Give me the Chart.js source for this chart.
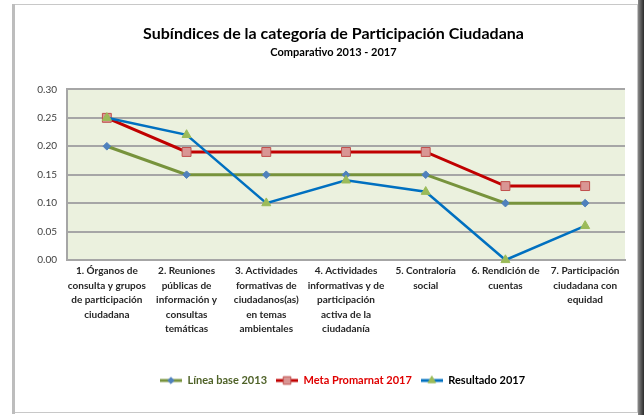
<!DOCTYPE html>
<html>
<head>
<meta charset="utf-8">
<script src="https://cdn.jsdelivr.net/npm/chart.js@4/dist/chart.umd.min.js"></script>
<style>
  html, body { margin: 0; padding: 0; background: #fff; }
  #wrap { position: relative; width: 644px; height: 415px; }
</style>
</head>
<body>
<div id="wrap"><canvas id="chart" width="644" height="415"></canvas></div>
<script>
// Chart data
const categories = [
    ['1. Órganos de', 'consulta y grupos', 'de participación', 'ciudadana'],
    ['2. Reuniones', 'públicas de', 'información y', 'consultas', 'temáticas'],
    ['3. Actividades', 'formativas de', 'ciudadanos(as)', 'en temas', 'ambientales'],
    ['4. Actividades', 'informativas y de', 'participación', 'activa de la', 'ciudadanía'],
    ['5. Contraloría', 'social'],
    ['6. Rendición de', 'cuentas'],
    ['7. Participación', 'ciudadana con', 'equidad']
];
const seriesNames = ['Línea base 2013', 'Meta Promarnat 2017', 'Resultado 2017'];
const lineaBase = [0.20, 0.15, 0.15, 0.15, 0.15, 0.10, 0.10];
const metaPromarnat = [0.25, 0.19, 0.19, 0.19, 0.19, 0.13, 0.13];
const resultado = [0.25, 0.22, 0.10, 0.14, 0.12, 0.00, 0.06];
const yTicks = [0.00, 0.05, 0.10, 0.15, 0.20, 0.25, 0.30];

Chart.defaults.font.family = "Lato, 'Open Sans', sans-serif";

// legend symbol: short line with the marker in the middle
function legendSymbol(lineColor, style, fill, stroke, radius) {
    const c = document.createElement('canvas');
    c.width = 22;
    c.height = 12;
    const g = c.getContext('2d');
    g.strokeStyle = lineColor;
    g.lineWidth = 3;
    g.beginPath();
    g.moveTo(0, 6);
    g.lineTo(22, 6);
    g.stroke();
    g.fillStyle = fill;
    g.strokeStyle = stroke;
    g.lineWidth = 1;
    Chart.helpers.drawPoint(g, { pointStyle: style, radius: radius, borderWidth: 1 }, 11, 6);
    return c;
}

const seriesStyle = [
    { line: '#77933C', style: 'rectRot', fill: '#4F81BD', stroke: '#4F81BD', radius: 3.8, text: '#4F6228' },
    { line: '#C00000', style: 'rect', fill: '#D99694', stroke: '#C0504D', radius: 6.3, text: '#E00000' },
    { line: '#0070C0', style: 'triangle', fill: '#9BBB59', stroke: '#9BBB59', radius: 5.2, text: '#000000' }
];

// frame, plot background, and centring of the text blocks
const framePlugin = {
    id: 'frame',
    afterLayout(chart) {
        chart.boxes.forEach(b => {
            if (b.axis) return;
            const shift = b.position === 'bottom' ? 20 : 11;
            b.left += shift;
            b.right += shift;
        });
    },
    beforeDraw(chart) {
        const ctx = chart.ctx;
        const a = chart.chartArea;
        ctx.save();
        ctx.fillStyle = '#ffffff';
        ctx.fillRect(0, 0, chart.width, chart.height);
        // shadow on right side
        const grad = ctx.createLinearGradient(638, 0, 644, 0);
        grad.addColorStop(0, '#8a8a8a');
        grad.addColorStop(1, '#2a2a2a');
        ctx.fillStyle = grad;
        ctx.fillRect(638, 0, 6, chart.height);
        ctx.strokeStyle = '#C8C8C8';
        ctx.lineWidth = 1;
        ctx.strokeRect(13.5, 4.5, 624, 408);
        ctx.fillStyle = '#BDBDBD';
        ctx.fillRect(12, 4, 3, 410);
        // plot area
        ctx.fillStyle = '#EBF1DE';
        ctx.fillRect(a.left, a.top, a.right - a.left, a.bottom - a.top);
        ctx.restore();
    }
};

const datasets = [lineaBase, metaPromarnat, resultado].map((values, i) => ({
    label: seriesNames[i],
    data: values,
    borderColor: seriesStyle[i].line,
    borderWidth: i === 2 ? 2.5 : 3,
    pointStyle: seriesStyle[i].style,
    pointRadius: seriesStyle[i].radius,
    pointHoverRadius: seriesStyle[i].radius,
    pointBackgroundColor: seriesStyle[i].fill,
    pointBorderColor: seriesStyle[i].stroke,
    pointBorderWidth: 1,
    tension: 0,
    fill: false,
    clip: false,
    order: 3 - i
}));

new Chart(document.getElementById('chart').getContext('2d'), {
    type: 'line',
    data: { labels: categories, datasets: datasets },
    options: {
        responsive: false,
        animation: false,
        layout: { padding: { left: 20, right: 19, top: 10, bottom: 19 } },
        plugins: {
            title: {
                display: true,
                text: 'Subíndices de la categoría de Participación Ciudadana',
                color: '#000000',
                font: { size: 16, weight: 'bold' },
                padding: { top: 14, bottom: 3 }
            },
            subtitle: {
                display: true,
                text: 'Comparativo 2013 - 2017',
                color: '#000000',
                font: { size: 11, weight: 'bold' },
                padding: { top: 0, bottom: 30 }
            },
            legend: {
                position: 'bottom',
                labels: {
                    usePointStyle: true,
                    pointStyleWidth: 22,
                    padding: 9,
                    font: { size: 11, weight: 'bold' },
                    generateLabels(chart) {
                        return chart.data.datasets.map((ds, i) => ({
                            text: ds.label,
                            fontColor: seriesStyle[i].text,
                            pointStyle: legendSymbol(seriesStyle[i].line, seriesStyle[i].style,
                                seriesStyle[i].fill, seriesStyle[i].stroke, seriesStyle[i].radius * 0.85),
                            fillStyle: seriesStyle[i].fill,
                            strokeStyle: seriesStyle[i].line,
                            lineWidth: 0,
                            hidden: false,
                            datasetIndex: i
                        }));
                    }
                }
            },
            tooltip: { enabled: false }
        },
        scales: {
            x: {
                offset: true,
                grid: { display: false, drawTicks: false },
                border: { display: true, color: '#A6A6A6', width: 2 },
                ticks: {
                    color: '#262626',
                    font: { size: 10, weight: 'bold', lineHeight: 1.45 },
                    padding: 4,
                    maxRotation: 0,
                    autoSkip: false
                },
                afterFit(scale) { scale.height = 106; }
            },
            y: {
                min: 0,
                max: 0.3,
                afterBuildTicks(scale) { scale.ticks = yTicks.map(v => ({ value: v })); },
                grid: { color: '#A6A6A6', lineWidth: 2, drawTicks: false },
                border: { display: true, color: '#A6A6A6', width: 2 },
                ticks: {
                    color: '#404040',
                    font: { size: 10 },
                    padding: 10,
                    callback: v => Number(v).toFixed(2)
                },
                afterFit(scale) { scale.width = 47; }
            }
        }
    },
    plugins: [framePlugin]
});
</script>
</body>
</html>
